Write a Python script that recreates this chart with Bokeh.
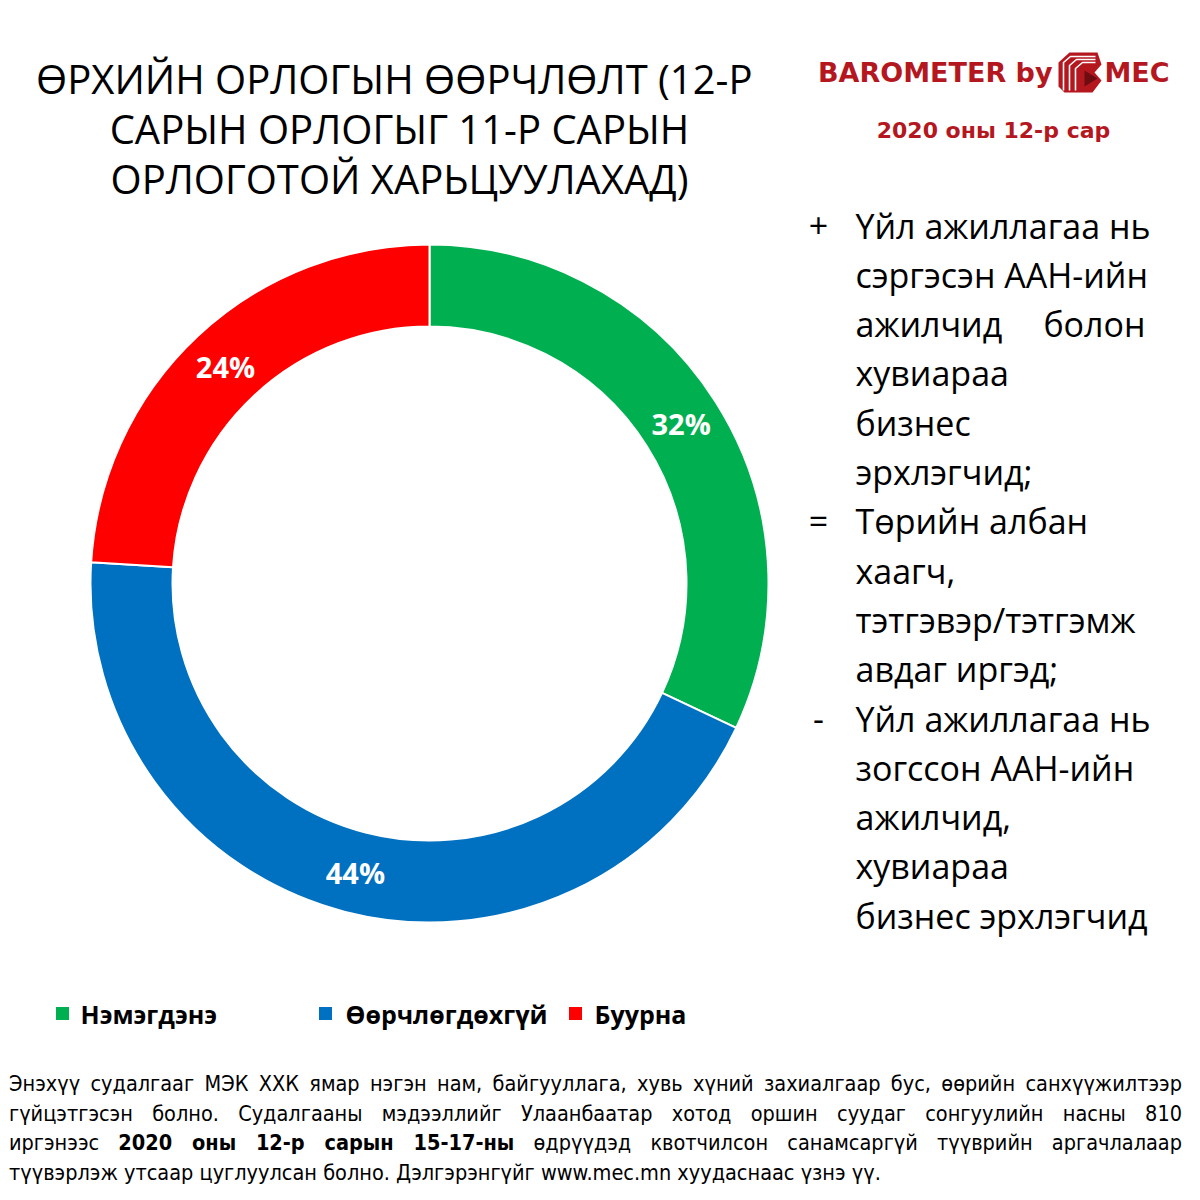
import math
from bokeh.plotting import figure
from bokeh.models import Range1d, Div
from bokeh.layouts import column
from bokeh.core.properties import value
from bokeh.embed import file_html
from bokeh.resources import INLINE

# ---------------- data ----------------
categories = ["Нэмэгдэнэ", "Өөрчлөгдөхгүй", "Буурна"]
shares = [32, 44, 24]
colors = ["#00b050", "#0070c0", "#ff0000"]

title_lines = [
    "ӨРХИЙН ОРЛОГЫН ӨӨРЧЛӨЛТ  (12-Р",
    "САРЫН ОРЛОГЫГ 11-Р САРЫН",
    "ОРЛОГОТОЙ ХАРЬЦУУЛАХАД)",
]
brand_left = "BAROMETER by"
brand_right = "MEC"
period_label = "2020 оны 12-р сар"

bullet_marks = ["+", "=", "-"]
bullet_texts = [
    ["Үйл ажиллагаа нь", "сэргэсэн ААН-ийн", "ажилчид|болон", "хувиараа", "бизнес", "эрхлэгчид;"],
    ["Төрийн албан", "хаагч,", "тэтгэвэр/тэтгэмж", "авдаг иргэд;"],
    ["Үйл ажиллагаа нь", "зогссон ААН-ийн", "ажилчид,", "хувиараа", "бизнес эрхлэгчид"],
]

footer_lines = [
    "Энэхүү судалгааг МЭК ХХК ямар нэгэн нам, байгууллага, хувь хүний захиалгаар бус, өөрийн санхүүжилтээр",
    "гүйцэтгэсэн болно. Судалгааны мэдээллийг Улаанбаатар хотод оршин суудаг сонгуулийн насны 810",
    "иргэнээс <b>2020 оны 12-р сарын 15-17-ны</b> өдрүүдэд квотчилсон санамсаргүй түүврийн аргачлалаар",
    "түүвэрлэж утсаар цуглуулсан болно. Дэлгэрэнгүйг www.mec.mn хуудаснаас үзнэ үү.",
]

# ---------------- figure ----------------
W, H = 1184, 1058
p = figure(width=W, height=H, x_range=Range1d(0, W), y_range=Range1d(0, H),
           output_backend="svg", toolbar_location=None, min_border=0,
           x_axis_type=None, y_axis_type=None)
p.grid.visible = False
p.outline_line_color = None
p.background_fill_color = "white"
p.border_fill_color = "white"


def X(px):
    return px


def Y(py):
    return H - py


def txt(x, y, s, size, color="black", bold=False, align="left", font="Open Sans"):
    p.text(x=[x], y=[y], text=[s], text_font=value(font), text_font_size=value(size),
           text_color=color, text_font_style="bold" if bold else "normal",
           text_align=align, text_baseline="middle")


# donut
cx, cy = X(429), Y(583)
r_out, r_in = 339, 257
total = sum(shares)
cum = 0
starts, ends, lx, ly = [], [], [], []
for s in shares:
    a0 = math.pi / 2 - 2 * math.pi * cum / total
    cum += s
    a1 = math.pi / 2 - 2 * math.pi * cum / total
    starts.append(a1)
    ends.append(a0)
    mid = (a0 + a1) / 2
    rm = (r_out + r_in) / 2
    lx.append(cx + rm * math.cos(mid))
    ly.append(cy + rm * math.sin(mid))

p.annular_wedge(x=cx, y=cy, inner_radius=r_in, outer_radius=r_out,
                start_angle=starts, end_angle=ends, fill_color=colors,
                line_color="white", line_width=2, direction="anticlock")
p.text(x=lx, y=ly, text=[f"{s}%" for s in shares], text_color="white",
       text_font=value("Open Sans"), text_font_size=value("29px"),
       text_font_style="bold", text_align="center", text_baseline="middle")

# title
for i, t in enumerate(title_lines):
    txt(X(399), Y(78 + 50 * i), t, "40px", align="center")

# brand
brand_red = "#b5171f"
txt(X(1052), Y(72), brand_left, "27px", color=brand_red, bold=True, align="right", font="DejaVu Sans")
txt(X(1104), Y(72), brand_right, "27px", color=brand_red, bold=True, align="left", font="DejaVu Sans")
txt(X(993), Y(130), period_label, "22px", color=brand_red, bold=True, align="center", font="DejaVu Sans")
# brand icon
ix = [X(v) for v in [1058, 1069, 1097, 1101, 1094, 1101, 1092, 1064, 1058]]
iy = [Y(v) for v in [62, 52, 52, 64, 72, 80, 92, 92, 86]]
p.patch(ix, iy, fill_color=brand_red, line_color=None)
for k in range(3):
    off = 6 * k
    p.line([X(1063 + off), X(1063 + off), X(1070 + off), X(1095)],
           [Y(90), Y(62 + off * 0.5), Y(56 + off * 0.5), Y(56 + off * 0.5)],
           line_color="white", line_width=1.6)
p.patch([X(1084), X(1097), X(1084)], [Y(70), Y(78), Y(86)], fill_color="#6d0d12", line_color=None)

# right-hand notes
line_y = 225
step = 49.3
for mark, lines in zip(bullet_marks, bullet_texts):
    txt(X(818), Y(line_y), mark, "34px", align="center")
    for ln in lines:
        if "|" in ln:
            a, b = ln.split("|")
            txt(X(855), Y(line_y), a, "34px")
            txt(X(1145), Y(line_y), b, "34px", align="right")
        else:
            txt(X(855), Y(line_y), ln, "34px")
        line_y += step

# legend
leg_sq_x = [62, 325, 575]
leg_tx_x = [80, 345, 594]
leg_y = 1013
p.rect(x=[X(v) for v in leg_sq_x], y=[Y(leg_y)] * 3, width=13, height=13,
       fill_color=colors, line_color=None)
for i, c in enumerate(categories):
    txt(X(leg_tx_x[i]), Y(leg_y), c, "25px", bold=True)

# footer
blocks = []
for i, ln in enumerate(footer_lines):
    last = "justify" if i < len(footer_lines) - 1 else "left"
    blocks.append(f'<div style="text-align:justify;text-align-last:{last};">{ln}</div>')
footer_html = ('<div style="width:1173px;margin-left:4px;padding-top:6px;'
               'font-family:\'Liberation Sans Narrow\',\'DejaVu Sans Condensed\',Roboto,sans-serif;'
               'font-size:21.5px;line-height:29.7px;color:#000;">' + "".join(blocks) + "</div>")
footer = Div(text=footer_html, width=1192, height=134)

layout = column(p, footer, spacing=0)
open("out.html", "w").write(file_html(layout, INLINE))
